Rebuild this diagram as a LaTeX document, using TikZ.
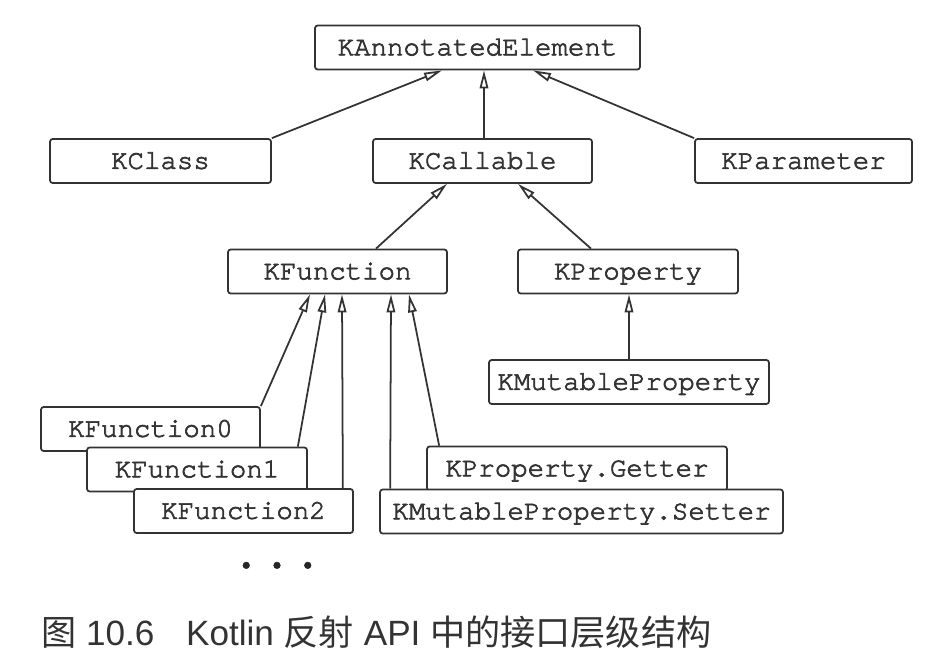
\documentclass[tikz,border=0pt]{standalone}
\usepackage{fontspec}
\newfontfamily\codefont{TeX Gyre Cursor}[FakeBold=2.5]
\newfontfamily\capsans{Liberation Sans}
\newfontfamily\cjk{Noto Sans CJK SC}
\usepackage{tikz}
\usetikzlibrary{arrows.meta,calc}

\tikzset{
  iface/.style={draw=black!80, line width=1pt, rounded corners=1.5pt, fill=white,
    minimum height=0.88cm, inner sep=0pt, text=black!80,
    text height=8.9pt, text depth=0pt,
    font=\codefont\fontsize{15.6}{18}\selectfont},
  inherit/.style={draw=black!80, line width=1pt,
    -{Triangle[open,length=0.36cm,width=0.17cm]}}
}

\begin{document}
\begin{tikzpicture}[x=0.02cm,y=-0.02cm]
\useasboundingbox (0,0) rectangle (950,655);
% top level
\node[iface,minimum width=6.5cm] (ann) at (477.5,47.5) {KAnnotatedElement};
\node[iface,minimum width=4.42cm] (kclass) at (160.5,161) {KClass};
\node[iface,minimum width=4.38cm] (kcall) at (482.5,161) {KCallable};
\node[iface,minimum width=4.34cm] (kparam) at (803.5,161) {KParameter};
\node[iface,minimum width=4.38cm] (kfun) at (337.5,271.5) {KFunction};
\node[iface,minimum width=4.4cm] (kprop) at (628,271.5) {KProperty};
\node[iface,minimum width=5.6cm] (kmprop) at (629,382) {KMutableProperty};
% stacked boxes
\node[iface,minimum width=4.38cm] (kfun0) at (150.5,429) {KFunction0};
\node[iface,minimum width=4.4cm] (kfun1) at (197,469.5) {KFunction1};
\node[iface,minimum width=4.38cm] (kfun2) at (243.5,511) {KFunction2};
\node[iface,minimum width=6.0cm] (getter) at (577,468.5) {KProperty.Getter};
\node[iface,minimum width=8.06cm] (setter) at (581.5,511.5) {KMutableProperty.Setter};
\node[text=black!85,font=\codefont\fontsize{12.5}{18}\selectfont] (more) at (277,566) {•\hspace{0.8em}•\hspace{0.8em}•};

\draw[inherit] (kclass.north east) -- ($(ann.south)+(-35.5,0)$);
\draw[inherit] ($(kcall.north)+(1.5,0)$) -- ($(ann.south)+(6.5,0)$);
\draw[inherit] (kparam.north west) -- ($(ann.south)+(55.5,0)$);
\draw[inherit] ($(kfun.north)+(38.5,0)$) -- ($(kcall.south)+(-35.5,0)$);
\draw[inherit] ($(kprop.north)+(-37,0)$) -- ($(kcall.south)+(35.5,0)$);
\draw[inherit] (kmprop.north) -- (kmprop.north |- kprop.south);
\draw[inherit] (kfun0.north east) -- ($(kfun.south)+(-27.5,0)$);
\draw[inherit] ($(kfun1.north east)+(-10,0)$) -- ($(kfun.south)+(-12.5,0)$);
\draw[inherit] ($(kfun2.north east)+(-11,0)$) -- ($(kfun.south)+(4.5,0)$);
\draw[inherit] ($(setter.north west)+(11,0)$) -- ($(kfun.south)+(53.5,0)$);
\draw[inherit] ($(getter.north west)+(13,0)$) -- ($(kfun.south)+(71.5,0)$);

\node[anchor=base west,text=black!80,font=\capsans\fontsize{20}{24}\selectfont] (caption) at (35,645)
  {{\cjk 图} 10.6\hspace{0.9em}Kotlin {\cjk 反射} API {\cjk 中的接口层级结构}};
\end{tikzpicture}
\end{document}
